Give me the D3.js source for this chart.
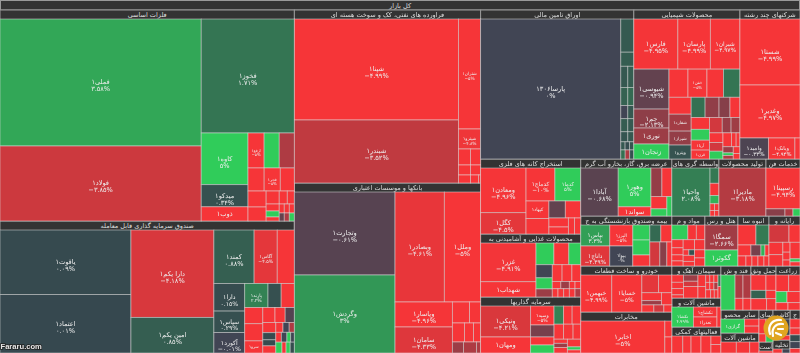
<!DOCTYPE html>
<html>
<head>
<meta charset="utf-8">
<style>
  html, body { margin: 0; padding: 0; background: #333; overflow: hidden; }
  text { font-family: "DejaVu Sans", sans-serif; }
</style>
<script src="https://cdnjs.cloudflare.com/ajax/libs/d3/7.8.5/d3.min.js"></script>
</head>
<body>
<div id="chart"></div>
<script>
const rootName = "کل بازار";

// sector titles, as far as they fit in the header strip
const sectorNames = [
  "فلزات اساسی", "صندوق سرمایه گذاری قابل معامله",
  "فراورده های نفتی، کک و سوخت هسته ای", "بانکها و موسسات اعتباری",
  "اوراق تامین مالی", "محصولات شیمیایی", "شرکتهای چند رشته",
  "استخراج کانه های فلزی", "محصولات غذایی و آشامیدنی به", "سرمایه گذاریها",
  "عرضه برق، گاز، بخارو آب گرم", "واسطه گری های", "تولید محصولات", "خدمات فن",
  "بیمه وصندوق بازنشستگی به ج", "خودرو و ساخت قطعات", "مخابرات",
  "مواد و م", "هتل و رس", "انبوه سا", "رایانه و",
  "سیمان، آهک و", "ماشین آلات و", "فعالیتهای کمکی",
  "قند و ش", "حمل ونق", "زراعت",
  "سایر محصو", "ماشین آلات", "سای", "آست", "کاشی", "تخلیه", "ج"
];

// relative size of each sector
const sectorSizes = [
  62034, 38808, 32178, 31620, 22797, 15794, 8940, 7500, 6300, 5600,
  5187, 2679, 2679, 1938, 4550, 4186, 3731, 1650, 1650, 1550, 1550,
  1568, 1421, 1274, 1320, 1100, 1056, 874, 760, 448, 154, 510, 221, 430
];

// cells are [name, change %, size], groups are ["h"|"v", ...]
const metals = ["h",
  ["v", ["فملی۱", 3.58, 25400], ["فولاد۱", -3.85, 15000]],
  ["v", ["فخوز۱", 1.71, 10550],
    ["h",
      ["v", ["کاوه۱", 5, 2400], ["میدکو۱", 0.34, 1030], ["ذوب۱", -5, 660]],
      ["v",
        ["h", ["ارفع۱", -5, 560], ["", 5, 525], ["", -3, 525]],
        ["h", ["", -5, 370], ["فجر۱", -5, 370], ["", -5, 322]],
        ["h",
          ["v", ["", -5, 288], ["", -5, 252]],
          ["v",
            ["h", ["", -5, 169], ["", -5, 104], ["", -5, 91]],
            ["h",
              ["v", ["", -5, 91], ["", 5, 78], ["", -5, 52]],
              ["v", ["h", ["", -5, 45], ["", -5, 45], ["", -5, 45]], ["h", ["", -1, 40], ["", -3, 40], ["", 5, 40]]]
            ]
          ]
        ]
      ]
    ]
  ]
];

const funds = ["h",
  ["v", ["یاقوت۱", 0.09, 8320], ["اعتماد۱", 0.01, 7540]],
  ["v", ["دارا یکم۱", -4.18, 7138], ["امین یکم۱", 0.85, 2905]],
  ["v",
    ["h", ["کمند۱", 0.88, 2120], ["آگاس۱", -4.5, 1219], ["", -5, 901]],
    ["h",
      ["v", ["دارا۱", 0.15, 837], ["سپاس۱", 0.29, 651], ["آکورد۱", -0.01, 620]],
      ["v",
        ["h", ["پارند۱", 2.2, 552], ["", 0.3, 312], ["", -5, 312]],
        ["h",
          ["v", ["", -5, 288], ["", -5, 306], ["سرو۱", -5, 216]],
          ["v",
            ["h", ["", -5, 180], ["", -5, 150], ["", -0.5, 135]],
            ["h",
              ["v", ["", -5, 130], ["", 0.1, 91], ["", 0.1, 78], ["", -5, 91]],
              ["v",
                ["h", ["", -5, 70], ["", 0, 60], ["", -3, 50]],
                ["h", ["", -5, 54], ["", 0, 54], ["", 5, 36], ["", 0, 36]],
                ["h", ["", 5, 66], ["", -5, 44], ["", 5, 44], ["", 0.2, 44]]
              ]
            ]
          ]
        ]
      ]
    ]
  ]
];

const oil = ["h",
  ["v", ["شپنا۱", -4.99, 16463], ["شبندر۱", -3.52, 10269]],
  ["v", ["شتران۱", -5, 2420], ["شپترو۱", -4.8, 440],
    ["h", ["", -5, 192], ["", -5, 160]],
    ["h", ["", -5, 120], ["", -5, 100]],
    ["h", ["", -5, 96], ["", -5, 64], ["", -5, 16]]
  ]
];

const banks = ["h",
  ["v", ["وتجارت۱", -0.61, 8300], ["وگردش۱", 3, 7800]],
  ["v",
    ["h", ["وبصادر۱", -4.61, 5390], ["وملل۱", -5, 3960]],
    ["h",
      ["v", ["وپاسار۱", -4.96, 1425], ["سامان۱", -4.33, 1482]],
      ["v",
        ["h", ["", -5, 357], ["", -5, 231]],
        ["h", ["", -5, 228], ["", -5, 171], ["", -5, 133]],
        ["h", ["", -2.5, 121], ["", -3, 143], ["", -3, 44]]
      ]
    ]
  ]
];

const bonds = ["h",
  ["پارسا۱۳۰۶", 0, 19460],
  ["v", ["", 0.7, 429], ["", 0.8, 182],
    ["h", ["", 0.6, 147], ["", 0.8, 126]],
    ["h", ["", 1, 126], ["", 1.3, 108]],
    ["h", ["", 0, 91], ["", 0.6, 78]],
    ["h", ["", 0.8, 91], ["", 0.7, 78]],
    ["h", ["", 0.5, 70], ["", 0.6, 60]],
    ["h", ["", 0.6, 35], ["", 0.2, 35], ["", 0.5, 35]],
    ["h", ["", 1.5, 40], ["", -3, 40], ["", 0.3, 37]]
  ]
];

const chemicals = ["v",
  ["h", ["فارس۱", -4.95, 2200], ["پارسان۱", -4.99, 1625], ["شیران۱", -4.97, 1475]],
  ["h",
    ["v", ["شیوسی۱", -0.94, 1400], ["جم۱", -2.13, 665], ["نوری۱", -2.5, 560], ["زنجان۱", 5, 525]],
    ["v",
      ["h", ["", -5, 532], ["خفن۱", -5, 532], ["", -5, 462], ["", 1.7, 462]],
      ["h",
        ["v", ["", -5, 374], ["شفارد۱", -2.7, 374], ["شیراز۱", -2.3, 308], ["ویترو۱", 0.4, 308]],
        ["v",
          ["h", ["", 1.5, 280], ["", -2.2, 280], ["", -1.9, 220], ["", -5, 200]],
          ["h",
            ["v", ["", -5, 216], ["", 5, 198], ["آریا۱", -5, 180], ["قرن۱", -5, 162]],
            ["v",
              ["h", ["", -4, 195], ["", -2.4, 135], ["", -2.6, 135]],
              ["h",
                ["v", ["", -5, 130], ["", -4, 117], ["", 5, 104]],
                ["v",
                  ["h", ["", -5, 117], ["", -5, 65], ["", -5, 52]],
                  ["h", ["v", ["", -2.5, 63], ["", 5, 27], ["", -3, 36]], ["v", ["", -5, 45], ["", -5, 36]]]
                ]
              ]
            ]
          ]
        ]
      ]
    ]
  ]
];

const multiIndustry = ["v", ["شستا۱", -4.99, 3894], ["وغدیر۱", -4.97, 3127],
  ["h", ["وامید۱", -0.33, 588], ["وبانک۱", -4.94, 546], ["", -5, 105]]
];

const mining = ["h",
  ["v", ["ومعادن۱", -4.96, 1980], ["کگل۱", -4.5, 945]],
  ["v",
    ["h", ["کدماج۱", -10, 928], ["کدما۱", 5, 832]],
    ["h",
      ["v", ["کپهاد۱", -5, 391], ["", -5, 345]],
      ["v",
        ["h", ["", -0.9, 272], ["", -5, 255]],
        ["h", ["v", ["", -5, 171], ["", -5, 133]], ["", -5, 96], ["", -5, 96]]
      ]
    ]
  ]
];

const food = ["h",
  ["v", ["غزر۱", -4.91, 2090], ["شهداب۱", -5, 825]],
  ["v",
    ["h", ["", 5, 378], ["", -5, 315], ["", 5, 252]],
    ["h",
      ["v", ["", 0, 208], ["", 5, 176], ["", -2.5, 128]],
      ["v",
        ["h", ["", -5, 160], ["", -5, 160], ["", -5, 144]],
        ["h", ["", -5, 60], ["", -2.5, 60], ["", -5, 40], ["", -5, 40]],
        ["h", ["", -5, 46], ["", -5, 46], ["", -5, 46], ["", -5, 46], ["", -3, 46]]
      ]
    ]
  ]
];

const investment = ["h",
  ["v", ["ونیکی۱", -4.21, 1519], ["ومهان۱", -5, 784]],
  ["v", ["وسپه۱", -5, 437], ["", -1.5, 276], ["", -5, 184], ["", 5, 184]],
  ["v",
    ["h", ["", 2.2, 170], ["", -5, 153], ["", -5, 153]],
    ["h", ["", -5, 140], ["", -5, 140], ["", -5, 112]],
    ["h",
      ["v", ["", -5, 54], ["", -2.5, 54], ["", -5, 72]],
      ["v", ["", -5, 100], ["", 5, 40], ["", -5, 40]]
    ]
  ]
];

const power = ["h",
  ["آبادا۱", -0.68, 1776],
  ["v", ["وهور۱", 5, 1254], ["سواند۱", -5, 297]],
  ["v",
    ["h", ["", -2.3, 308], ["", -5, 280]],
    ["h", ["v", ["", -5, 192], ["", 5, 112]], ["", 5, 95]]
  ]
];

const brokers = ["h",
  ["واحیا۱", 2.08, 1824],
  ["v", ["", 1.8, 135], ["", -5, 108], ["", 4, 72],
    ["h", ["v", ["", -5, 30], ["", -5, 24]], ["v", ["", -5, 30], ["", -5, 24]]]
  ]
];

const production = ["v", ["مادیرا۱", -3.18, 100]];

const tech = ["v", ["رسپینا۱", -4.94, 1360],
  ["h", ["", -2, 133], ["", -3, 56], ["", 5, 49]]
];

const insurance = ["h",
  ["v", ["بپاس۱", 3.3, 609], ["داناج۱", -4.39, 580]],
  ["v", ["البرز۱", -5, 483], ["بیوا۱", 0, 460]],
  ["v", ["", 5, 255], ["", 5, 255], ["", -5, 187]],
  ["v",
    ["h", ["", 1.3, 187], ["", -5, 187]],
    ["h", ["", -4, 240], ["", -2, 168], ["", -5, 120]]
  ]
];

const auto = ["h",
  ["خبهمن۱", -4.99, 1221], ["خسایا۱", -5, 1184],
  ["v", ["h", ["", -4.5, 315], ["", -5, 250]],
    ["h", ["v", ["", -5, 165], ["", -2.5, 90]], ["", -5, 135]],
    ["h", ["", -5, 90], ["", -4, 75], ["", -5, 60]]
  ]
];

const telecom = ["h", ["اخابر۱", -5, 2688], ["v", ["", -5, 112], ["", -5, 112]]];

const materials = ["v",
  ["h", ["", 5, 225], ["", -5, 120], ["", -5, 120]],
  ["h",
    ["v", ["", -5, 88], ["", -5, 77], ["", -5, 66], ["", -5, 55]],
    ["v", ["", -5, 110], ["h", ["", -5, 30], ["", 0.4, 30]], ["", -5, 66], ["", -5, 50]],
    ["v", ["", -5, 100], ["", -5, 80], ["", -5, 80]]
  ]
];

const hotel = ["v", ["سمگا۱", -2.66, 825], ["گکوثر۱", 5, 528]];

const massBuilding = ["v",
  ["h", ["", -5, 360], ["", 1.9, 260]],
  ["h", ["", -5, 143], ["", -1.5, 110], ["", 4, 44], ["", -5, 44]],
  ["h", ["", -5, 80], ["", -5, 60], ["", -5, 60], ["", -5, 60], ["", -5, 50]]
];

const software = ["v",
  ["h", ["", -4, 340], ["", -5, 187]],
  ["h",
    ["v", ["", -5, 168], ["", -5, 154]],
    ["v", ["", -5, 70], ["", -5, 56], ["", -5, 42]],
    ["v", ["", -5, 160], ["", 5, 30], ["", -5, 40]]
  ]
];

const cement = ["h",
  ["v", ["", -5, 84], ["", -5, 72], ["", -5, 72], ["", -5, 36]],
  ["v", ["", -2.5, 90], ["", -4, 75], ["", -5, 165]],
  ["v", ["", -5, 88], ["", -5, 88]],
  ["v",
    ["h", ["", -5, 30], ["", -5, 30], ["", -5, 30]],
    ["h", ["", -5, 30], ["", -5, 30], ["", -3, 30]],
    ["h", ["", -5, 40], ["", -5, 30], ["", -5, 30]]
  ],
  ["v", ["", 2, 33], ["", -5, 33]]
];

const machinery = ["h",
  ["تکشا۱", 4.99, 440],
  ["v", ["تکشاج۱", -5, 240], ["تعذرا۱", -5, 240]],
  ["", -5, 80]
];

const support = ["h",
  ["", -5, 198], ["", -5, 150], ["", -5, 180], ["", -5, 180],
  ["v", ["", -5, 90], ["", -5, 90]]
];

const sugar = ["h",
  ["", 5, 429],
  ["v", ["h", ["", -3, 160], ["", -3, 160]], ["h", ["", -5, 80], ["", -5, 80]]]
];

const transport = ["v",
  ["h", ["", -5, 195], ["", -5, 130]],
  ["h", ["", 1, 105], ["", -5, 70]],
  ["h", ["", -5, 150], ["", -5, 90]]
];

const agriculture = ["v",
  ["h", ["", -5, 190], ["", -5, 170]],
  ["h", ["", 5, 110], ["", -5, 130]],
  ["h", ["", -5, 80], ["", -5, 80]]
];

const otherProducts = ["h", ["گرازی۱", 5, 322], ["v", ["", -5, 100], ["", -5, 96]]];
const machines = ["h", ["", -5, 165], ["", -5, 143], ["", -5, 99]];
const others29 = ["v", ["h", ["", -5, 110], ["", -5, 110]], ["h", ["", -5, 60], ["", 5, 60]]];
const others30 = ["v", ["", -5, 40]];
const tiles = ["v", ["h", ["", -5, 180], ["", 0, 170]], ["", -5, 100]];
const unloading = ["h", ["", -5, 60], ["", 0, 50]];
const lastColumn = ["v", ["", -5, 80], ["", -5, 60], ["", 0.1, 60], ["", 0, 60], ["", -5, 40]];

const sectorCells = [
  metals, funds, oil, banks, bonds, chemicals, multiIndustry, mining, food, investment,
  power, brokers, production, tech, insurance, auto, telecom,
  materials, hotel, massBuilding, software, cement, machinery, support,
  sugar, transport, agriculture, otherProducts, machines, others29, others30, tiles, unloading, lastColumn
];

// how the sectors are arranged, numbers point into sectorNames
const marketLayout = ["h",
  ["v", 0, 1],
  ["v", 2, 3],
  ["v",
    ["h", 4, 5, 6],
    ["h",
      ["v", 7, 8, 9],
      ["v",
        ["h", 10, 11, 12, 13],
        ["h",
          ["v", 14, 15, 16],
          ["v",
            ["h", 17, 18, 19, 20],
            ["h",
              ["v", 21, 22, 23],
              ["v",
                ["h", 24, 25, 26],
                ["h", ["v", 27, 28], ["v", 29, 30], ["v", 31, 32], 33]
              ]
            ]
          ]
        ]
      ]
    ]
  ]
];

const width = 800;
const height = 353;
const toPersian = (s) => s.replace(/\d/g, (c) => "۰۱۲۳۴۵۶۷۸۹"[c]);
const formatChange = (v) => toPersian(d3.format(".2~f")(v)) + "%";

function toNode(s) {
  if (typeof s === "number") {
    const n = toNode(sectorCells[s]);
    n.title = sectorNames[s];
    n.size = sectorSizes[s];
    return n;
  }
  if (s[0] === "h" || s[0] === "v") return { dir: s[0], children: s.slice(1).map(toNode) };
  return { name: s[0], change: s[1], value: s[2] };
}

const root = d3.hierarchy(toNode(marketLayout)).sum((d) => d.value || 0);
root.eachAfter((n) => {
  n.w = n.data.size || (n.children ? d3.sum(n.children, (c) => c.w) : n.value);
});

// keeps the rows and columns of the original, so no squarify here
function tile(node, x0, y0, x1, y1) {
  const total = d3.sum(node.children, (c) => c.w);
  const horizontal = node.data.dir === "h";
  const k = (horizontal ? x1 - x0 : y1 - y0) / total;
  let p = horizontal ? x0 : y0;
  node.children.forEach((c) => {
    const len = c.w * k;
    c.x0 = horizontal ? p : x0;
    c.x1 = horizontal ? p + len : x1;
    c.y0 = horizontal ? y0 : p;
    c.y1 = horizontal ? y1 : p + len;
    p += len;
  });
}

d3.treemap()
  .size([width, height])
  .tile(tile)
  .paddingTop((d) => (d.data.title ? 9 : d.depth === 0 ? 10 : 0))(root);

// small gains start from a slightly greener grey than a flat price
const color = d3.scaleLinear()
  .domain([-5, 0, 0.001, 5])
  .range(["#f63538", "#414554", "#36484f", "#30cc5a"])
  .clamp(true);

const svg = d3.select("#chart").append("svg")
  .attr("width", width)
  .attr("height", height)
  .style("display", "block")
  .style("filter", "blur(0.35px)");

svg.append("rect")
  .attr("x", 0.5).attr("y", 0.5)
  .attr("width", width - 1).attr("height", 9.5)
  .attr("fill", "#333").attr("stroke", "#999");

svg.append("text")
  .attr("x", width / 2).attr("y", 7.7)
  .attr("text-anchor", "middle").attr("direction", "rtl")
  .attr("font-size", 6.5).attr("fill", "#ddd")
  .text(rootName);

const sectors = root.descendants().filter((d) => d.data.title);

svg.append("defs").selectAll("clipPath")
  .data(sectors)
  .join("clipPath")
  .attr("id", (d, i) => "clip" + i)
  .append("rect")
  .attr("x", (d) => d.x0).attr("y", (d) => d.y0)
  .attr("width", (d) => d.x1 - d.x0).attr("height", 9);

const header = svg.append("g");

header.selectAll("rect")
  .data(sectors)
  .join("rect")
  .attr("x", (d) => d.x0).attr("y", (d) => d.y0)
  .attr("width", (d) => d.x1 - d.x0).attr("height", (d) => d.y1 - d.y0)
  .attr("fill", "#333").attr("stroke", "#999");

header.selectAll("text")
  .data(sectors)
  .join("text")
  .attr("clip-path", (d, i) => `url(#clip${i})`)
  .attr("x", (d) => (d.x0 + d.x1) / 2).attr("y", (d) => d.y0 + 7)
  .attr("text-anchor", "middle").attr("direction", "rtl")
  .attr("font-size", 6.5).attr("fill", "#ddd")
  .text((d) => d.data.title);

const cells = svg.append("g").selectAll("g")
  .data(root.leaves())
  .join("g");

cells.append("rect")
  .attr("x", (d) => d.x0).attr("y", (d) => d.y0)
  .attr("width", (d) => d.x1 - d.x0).attr("height", (d) => d.y1 - d.y0)
  .attr("fill", (d) => color(d.data.change))
  .attr("stroke", "rgba(225,225,225,0.55)")
  .attr("stroke-width", 0.9);

const labelled = cells.filter((d) => d.data.name);
const fontSize = (d) => Math.max(4, Math.min(6.6, (d.x1 - d.x0) / 5));
const twoLines = (d) => d.y1 - d.y0 >= 18;

labelled.append("text")
  .attr("x", (d) => (d.x0 + d.x1) / 2)
  .attr("y", (d) => (d.y0 + d.y1) / 2 + fontSize(d) * (twoLines(d) ? 0.3 : 0.35))
  .attr("text-anchor", "middle").attr("direction", "rtl")
  .attr("font-size", fontSize).attr("fill", "#eee")
  .text((d) => d.data.name);

labelled.filter(twoLines).append("text")
  .attr("x", (d) => (d.x0 + d.x1) / 2)
  .attr("y", (d) => (d.y0 + d.y1) / 2 + fontSize(d) * 1.35)
  .attr("text-anchor", "middle").attr("direction", "ltr")
  .attr("font-size", fontSize).attr("fill", "#eee")
  .text((d) => formatChange(d.data.change));

// watermark and logo of the site the picture was taken from
svg.append("text")
  .attr("x", 0.5).attr("y", 349)
  .attr("font-size", 7.6).attr("font-weight", "bold")
  .style("font-family", "'Liberation Sans', sans-serif")
  .attr("fill", "#e8e8e8")
  .attr("stroke", "#222").attr("stroke-width", 1.5).attr("paint-order", "stroke")
  .text("Fararu.com");

const logo = svg.append("g").attr("transform", "translate(776,328)");
logo.append("circle").attr("r", 12.5).attr("fill", "#e0a521");
logo.append("path")
  .attr("d", "M-6,6 C-9,-3 -3,-9 5,-8 M-3,8 C-5,0 0,-5 7,-4 M2,1 L7,1 M0,5 L5,7")
  .attr("fill", "none").attr("stroke", "#fff").attr("stroke-width", 2.2).attr("stroke-linecap", "round");
</script>
</body>
</html>
